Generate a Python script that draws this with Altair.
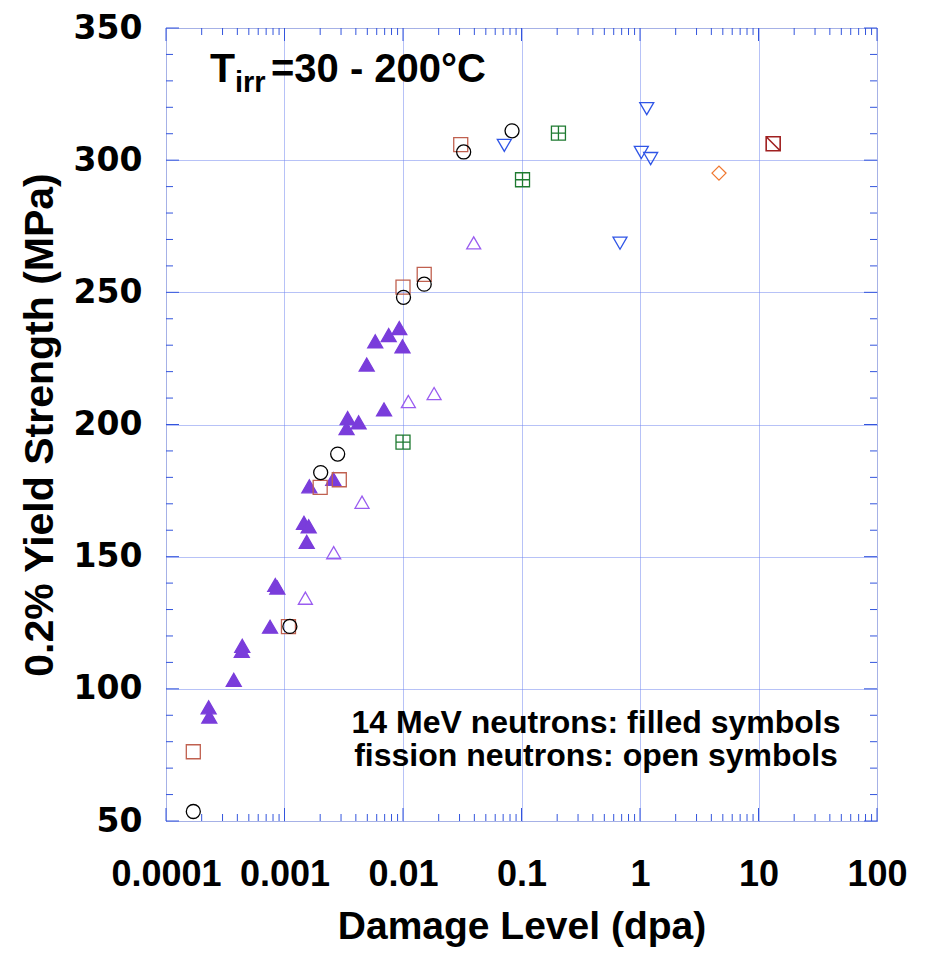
import altair as alt
import pandas as pd

# ---- data ----
filled14_x = [0.0093, 0.00757, 0.0099, 0.00583, 0.00494, 0.00692, 0.00341, 0.00422, 0.00334,
              0.00258, 0.00162, 0.00146, 0.0016, 0.00154, 0.000836, 0.00087, 0.000755,
              0.00044, 0.000436, 0.000373, 0.000229, 0.000232]
filled14_y = [236.5, 233.8, 229.6, 231.5, 222.7, 205.7, 202.4, 200.8, 198.6,
              179.4, 176.6, 162.8, 161.5, 155.6, 139.3, 138.3, 123.5,
              116.3, 114.4, 103.4, 93.0, 89.5]

open_tri_x = [0.0111, 0.0183, 0.00451, 0.0026, 0.0015, 0.0395]
open_tri_y = [208.7, 211.7, 170.6, 151.5, 134.3, 268.7]

open_sq_x = [0.0307, 0.01, 0.0151, 0.002, 0.0029, 0.00108, 0.00017]
open_sq_y = [305.9, 252.0, 256.8, 176.2, 179.1, 123.5, 76.2]

circle_x = [0.0325, 0.0832, 0.0101, 0.0151, 0.00202, 0.00281, 0.00111, 0.00017]
circle_y = [303.1, 311.1, 248.1, 253.1, 181.8, 188.8, 123.6, 53.6]

down_x = [0.0716, 1.14, 1.026, 1.23, 0.678]
down_y = [305.6, 319.5, 302.9, 300.6, 268.6]

cross_x = [0.205, 0.102, 0.01]
cross_y = [310.2, 292.6, 193.3]

diamond_x = [4.64]
diamond_y = [295.1]

diag_x = [13.3]
diag_y = [306.2]

x_major = [0.0001, 0.001, 0.01, 0.1, 1, 10, 100]
x_minor = [k * 10.0 ** e for e in range(-4, 2) for k in range(2, 10)]
y_major = [50, 100, 150, 200, 250, 300, 350]
y_minor = [v for v in range(60, 350, 10) if v % 50 != 0]

W, H = 711, 793
TOP = 20
FONT = "Liberation Sans"
BLUE = "#3355dd"
GRID = "#6f84ee"

xscale = alt.Scale(type="log", domain=[0.0001, 100], nice=False)
yscale = alt.Scale(domain=[50, 350], nice=False, zero=False)

xaxis = alt.Axis(values=x_major, format="~g", ticks=False, tickSize=0, domain=False,
                 grid=True, gridColor=GRID, gridDash=[1, 1], gridWidth=1,
                 labelFont=FONT, labelFontSize=36, labelFontWeight="bold", labelColor="black",
                 labelPadding=36, labelFlush=False, labelOverlap=False,
                 title="Damage Level (dpa)", titleFont=FONT, titleFontSize=39,
                 titleFontWeight="bold", titleColor="black", titlePadding=15)
yaxis = alt.Axis(values=y_major, ticks=False, tickSize=0, domain=False,
                 grid=True, gridColor=GRID, gridDash=[1, 1], gridWidth=1,
                 labelFont="DejaVu Sans", labelFontSize=33, labelFontWeight="bold",
                 labelColor="black", labelPadding=24, labelFlush=False,
                 title="0.2% Yield Strength (MPa)", titleFont=FONT, titleFontSize=41,
                 titleFontWeight="bold", titleColor="black", titlePadding=12)


def pts(xs, ys, shape, color, size, filled=False, sw=1.3, axes=False):
    df = pd.DataFrame({"dpa": xs, "ys": ys})
    kw = dict(shape=shape, size=size, strokeWidth=sw, opacity=1, stroke=color)
    if filled:
        kw.update(filled=True, fill=color)
    else:
        kw.update(filled=False)
    if axes:
        xe = alt.X("dpa:Q", scale=xscale, axis=xaxis)
        ye = alt.Y("ys:Q", scale=yscale, axis=yaxis)
    else:
        xe = alt.X("dpa:Q", scale=xscale)
        ye = alt.Y("ys:Q", scale=yscale)
    return alt.Chart(df).mark_point(**kw).encode(x=xe, y=ye)


CROSS_SQ = "M-1,-1H1V1H-1Z M0,-1V1 M-1,0H1"
DIAG_SQ = "M-1,-1H1V1H-1Z M-1,-1L1,1"

layers = [
    pts(filled14_x, filled14_y, "triangle-up", "#7a3ddb", 225, filled=True, axes=True),
    pts(open_tri_x, open_tri_y, "triangle-up", "#9a5cf0", 196),
    pts(open_sq_x, open_sq_y, "square", "#c0604f", 196),
    pts(circle_x, circle_y, "circle", "black", 196),
    pts(down_x, down_y, "triangle-down", "#2f55e6", 196),
    pts(cross_x, cross_y, CROSS_SQ, "#1e7a30", 196),
    pts(diamond_x, diamond_y, "diamond", "#f07830", 196),
    pts(diag_x, diag_y, DIAG_SQ, "#a02020", 196, sw=1.6),
]

# inside ticks
xmin_df = pd.DataFrame({"v": x_minor})
xmaj_df = pd.DataFrame({"v": x_major})
ymin_df = pd.DataFrame({"v": y_minor})
ymaj_df = pd.DataFrame({"v": y_major})


def xticks(df, length):
    bot = alt.Chart(df).mark_rule(color=BLUE, strokeWidth=1).encode(
        x=alt.X("v:Q", scale=xscale), y=alt.value(H), y2=alt.value(H - length))
    top = alt.Chart(df).mark_rule(color=BLUE, strokeWidth=1).encode(
        x=alt.X("v:Q", scale=xscale), y=alt.value(0), y2=alt.value(length))
    return [bot, top]


def yticks(df, length):
    left = alt.Chart(df).mark_rule(color=BLUE, strokeWidth=1).encode(
        y=alt.Y("v:Q", scale=yscale), x=alt.value(0), x2=alt.value(length))
    right = alt.Chart(df).mark_rule(color=BLUE, strokeWidth=1).encode(
        y=alt.Y("v:Q", scale=yscale), x=alt.value(W), x2=alt.value(W - length))
    return [left, right]


tick_layers = xticks(xmin_df, 7) + xticks(xmaj_df, 13) + yticks(ymin_df, 7) + yticks(ymaj_df, 13)


def label(text, x, y, size, align="left"):
    return alt.Chart(pd.DataFrame({"a": [0]})).mark_text(
        text=text, font=FONT, fontSize=size, fontWeight="bold", color="black",
        align=align, baseline="alphabetic").encode(x=alt.value(x), y=alt.value(y))


texts = [
    label("T", 44, 54, 41),
    label("irr", 69, 64, 29),
    label("=30 - 200\u00b0C", 320, 54, 40, align="right"),
    label("14 MeV neutrons: filled symbols", 430, 705, 32, align="center"),
    label("fission neutrons: open symbols", 430, 738, 32, align="center"),
]

chart = alt.layer(*layers, *tick_layers, *texts).properties(
    width=W, height=H,
    autosize=alt.AutoSizeParams(type="none"),
    padding={"left": 158, "top": TOP, "right": 40, "bottom": 131},
).configure_view(stroke=BLUE, strokeWidth=1.5).configure(background="white")

chart.save("out.html", embed_options={"renderer": "svg", "actions": False})
